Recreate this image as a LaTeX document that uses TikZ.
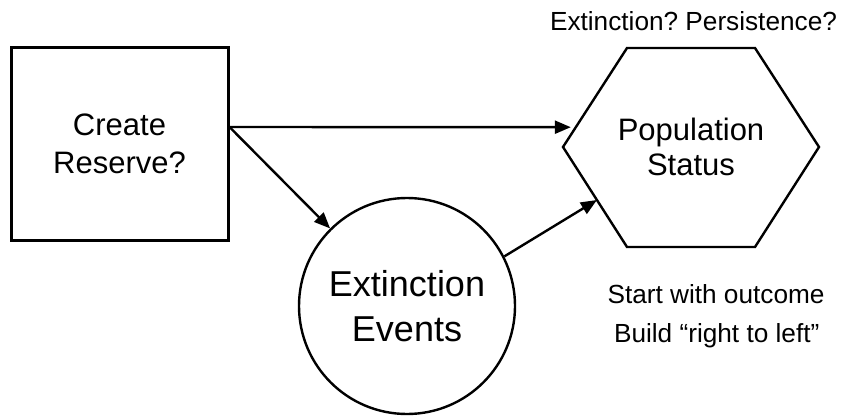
\documentclass[tikz,border=0pt]{standalone}
\usepackage{fontspec}
\setmainfont{Liberation Sans}
\usetikzlibrary{arrows.meta,calc}
\begin{document}
\frenchspacing
\begin{tikzpicture}[x=1pt,y=-1pt,
  shapeline/.style={draw=black, line width=2.4pt},
  link/.style={line width=2.4pt, -{Triangle[length=16pt,width=13pt]}},
  note/.style={font=\fontsize{26.2}{30}\selectfont, anchor=base, inner sep=0pt}]
\useasboundingbox (0,0) rectangle (842,415);

% decision box
\node[shapeline, line width=3pt, minimum width=217pt, minimum height=193pt,
      font=\fontsize{31}{38}\selectfont, align=center] (reserve) at (119.5,143.5) {Create\\Reserve?};

% chance node
\node[shapeline, circle, minimum size=216pt, inner sep=0pt,
      font=\fontsize{36}{45}\selectfont, align=center] (events) at (407,306) {Extinction\\Events};

% outcome hexagon
\coordinate (hl)  at (563,147);
\coordinate (htl) at (627,48);
\coordinate (htr) at (755,48);
\coordinate (hr)  at (819,147);
\coordinate (hbr) at (755,247);
\coordinate (hbl) at (627,247);
\draw[shapeline, line join=miter] (hl) -- (htl) -- (htr) -- (hr) -- (hbr) -- (hbl) -- cycle;
\node[font=\fontsize{31}{35}\selectfont, align=center] (status) at (691,147) {Population\\Status};

% connectors
\coordinate (rs) at ([yshift=16.5pt]reserve.east);
\coordinate (hin1) at ($(hl)!0.2!(htl)$);
\coordinate (hin2) at ($(hl)!0.53!(hbl)$);
\draw[link, shorten >=5pt] (rs) -- (hin1);
\draw[link] (rs) -- (events);
\draw[link] (events.27) -- (hin2);

% annotations
\node[note] (question) at (693.5,30.5) {Extinction? Persistence?};
\node[note] (hint1) at (716,303) {Start with outcome};
\node[note] (hint2) at (716.7,342.7) {Build “right to left”};
\end{tikzpicture}
\end{document}
